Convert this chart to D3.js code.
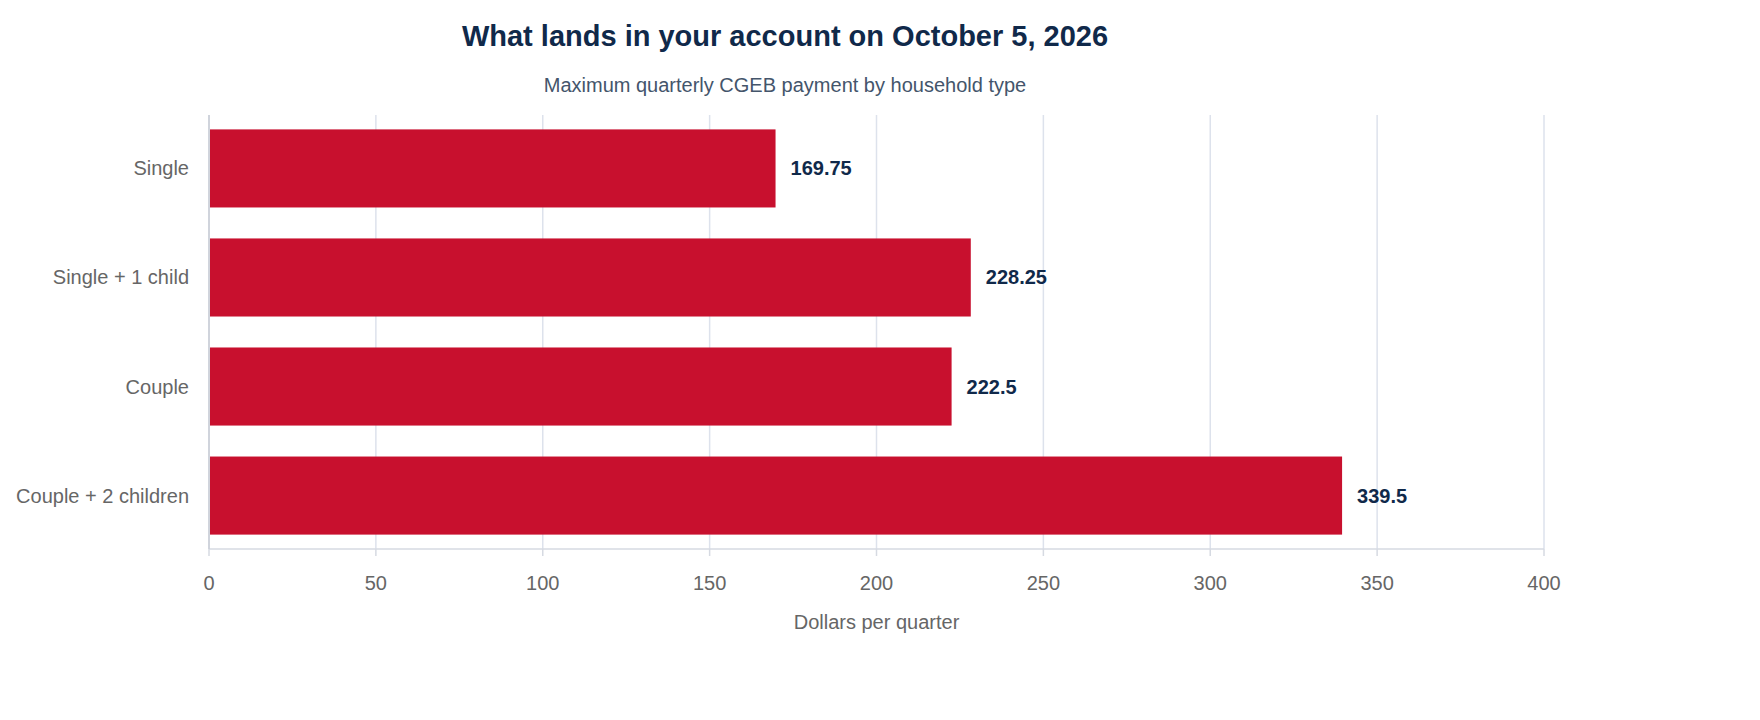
<!DOCTYPE html>
<html><head><meta charset="utf-8">
<script src="https://cdn.jsdelivr.net/npm/d3@7/dist/d3.min.js"></script>
<style>body{margin:0;background:#fff}svg{font-family:"Liberation Sans",Arial,sans-serif}</style>
</head><body><svg id="c" width="1760" height="720"></svg>
<script>
const categories=["Single","Single + 1 child","Couple","Couple + 2 children"];
const values=[169.75,228.25,222.5,339.5];
const ticks=[0,50,100,150,200,250,300,350,400];
const svg=d3.select("#c");
const L=209,R=1544,T=115,B=549;
const x=d3.scaleLinear().domain([0,400]).range([L,R]);
const y=d3.scaleBand().domain(categories).range([T,B]).paddingInner(0.284).paddingOuter(0.132);
svg.append("text").attr("x",785).attr("y",46).attr("text-anchor","middle").attr("font-size",29).attr("font-weight","bold").attr("fill","#10294a").text("What lands in your account on October 5, 2026");
svg.append("text").attr("x",785).attr("y",92).attr("text-anchor","middle").attr("font-size",20).attr("fill","#44556b").text("Maximum quarterly CGEB payment by household type");
svg.append("g").selectAll("line").data(ticks).join("line").attr("x1",d=>x(d)).attr("x2",d=>x(d)).attr("y1",T).attr("y2",B).attr("stroke","#dde2ec").attr("stroke-width",1.5);
svg.append("line").attr("x1",L).attr("x2",R).attr("y1",B).attr("y2",B).attr("stroke","#d6dae2").attr("stroke-width",1.5);
svg.append("line").attr("x1",L).attr("x2",L).attr("y1",T).attr("y2",B).attr("stroke","#c8ccd4").attr("stroke-width",1.5);
svg.append("g").selectAll("line").data(ticks).join("line").attr("x1",d=>x(d)).attr("x2",d=>x(d)).attr("y1",B).attr("y2",B+7).attr("stroke","#d6dae2").attr("stroke-width",1.5);
svg.append("g").selectAll("rect").data(values).join("rect").attr("x",x(0)+1).attr("y",(d,i)=>y(categories[i])).attr("width",d=>x(d)-x(0)-1).attr("height",y.bandwidth()).attr("fill","#c8102e");
svg.append("g").selectAll("text").data(values).join("text").attr("x",d=>x(d)+15).attr("y",(d,i)=>y(categories[i])+y.bandwidth()/2+7).attr("font-size",20).attr("font-weight","bold").attr("fill","#10294a").text(d=>d);
svg.append("g").selectAll("text").data(categories).join("text").attr("x",189).attr("y",d=>y(d)+y.bandwidth()/2+7).attr("text-anchor","end").attr("font-size",20).attr("fill","#666").text(d=>d);
svg.append("g").selectAll("text").data(ticks).join("text").attr("x",d=>x(d)).attr("y",590).attr("text-anchor","middle").attr("font-size",20).attr("fill","#666").text(d=>d);
svg.append("text").attr("x",(L+R)/2).attr("y",629).attr("text-anchor","middle").attr("font-size",20).attr("fill","#666").text("Dollars per quarter");
</script></body></html>
